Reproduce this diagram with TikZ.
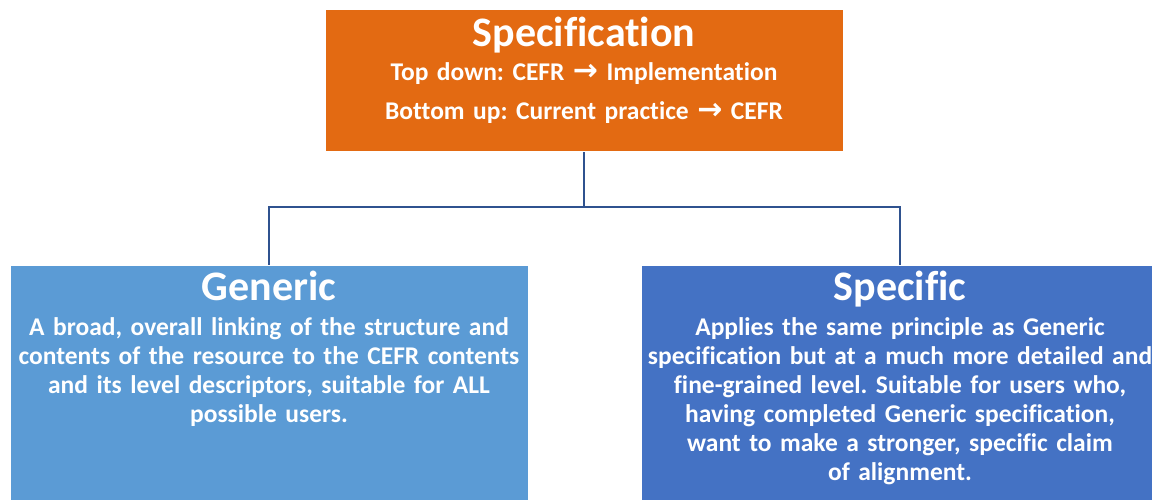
\documentclass[tikz,border=0pt]{standalone}
\usepackage{fontspec}
\setmainfont{Carlito}[RawFeature=-liga]
\newfontfamily\arrowfont{DejaVu Sans}
\definecolor{specorange}{HTML}{E36A12}
\definecolor{genericblue}{HTML}{5B9BD5}
\definecolor{specificblue}{HTML}{4472C4}
\definecolor{linkblue}{HTML}{2F528F}
\newcommand{\toarrow}{{\arrowfont\bfseries\fontsize{30}{30}\selectfont →}}
\frenchspacing
\begin{document}
\begin{tikzpicture}[x=1pt,y=-1pt]
            \tikzstyle{every node}+=[inner sep=0pt]
            \tikzstyle{box}=[draw=white, line width=1pt, minimum width=518pt]
            \tikzstyle{heading}=[text=white, anchor=base, font=\fontsize{42}{48}\selectfont\bfseries]
            \tikzstyle{blurb}=[text=white, anchor=base, align=center, text width=560pt, font=\fontsize{25.5}{29}\selectfont\bfseries]
            \tikzstyle{link}=[draw=linkblue, line width=2.2pt]
            \useasboundingbox (0,0) rectangle (1152,500);
            \node [box, fill=specorange, minimum height=142pt] (spec) at (584,81) {};
            \node [heading] (spec-title) at (584,47) {Specification};
            \node [blurb, font=\fontsize{25.5}{39}\selectfont\bfseries] (spec-text) at (584,81) {Top down: CEFR \toarrow{} Implementation\\Bottom up: Current practice \toarrow{} CEFR};
            \node [box, fill=genericblue, minimum height=245pt, anchor=north] (generic) at (269,265) {};
            \node [heading] (generic-title) at (269,300) {Generic};
            \node [blurb] (generic-text) at (269,335) {A broad, overall linking of the structure and\\contents of the resource to the CEFR contents\\and its level descriptors, suitable for ALL\\possible users.};
            \node [box, fill=specificblue, minimum height=245pt, anchor=north] (specific) at (900,265) {};
            \node [heading] (specific-title) at (900,300) {Specific};
            \node [blurb] (specific-text) at (900,335) {Applies the same principle as Generic\\specification but at a much more detailed and\\fine-grained level. Suitable for users who,\\having completed Generic specification,\\want to make a stronger, specific claim\\of alignment.};
            \draw [link] (spec.south) -- (spec.south |- 0,207) -| (generic.north);
            \draw [link] (spec.south |- 0,207) -| (specific.north);
\end{tikzpicture}
\end{document}
